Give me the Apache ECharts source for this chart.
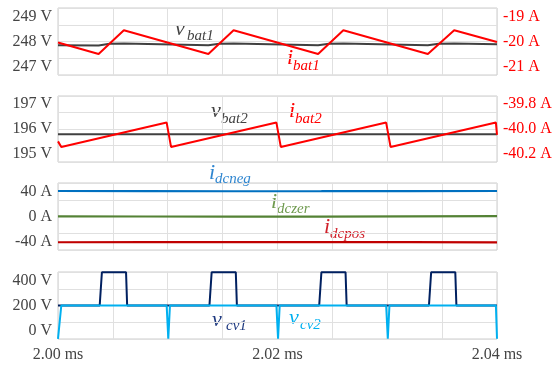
<!DOCTYPE html>
<html>
<head>
<meta charset="utf-8">
<script src="https://cdn.jsdelivr.net/npm/echarts@6/dist/echarts.min.js"></script>
<style>
  html, body { margin: 0; padding: 0; background: #fff; }
  #chart { width: 555px; height: 365px; }
</style>
</head>
<body>
<div id="chart"></div>
<script>
// time axis in ms
const xTicks = [2.00, 2.02, 2.04]

// panel 1: battery 1
const bat1Time = [2.0000, 2.0037, 2.0060, 2.0137, 2.0160, 2.0237, 2.0260, 2.0337, 2.0361, 2.0400]
const iBat1 = [-20.04, -20.50, -19.55, -20.50, -19.55, -20.50, -19.55, -20.50, -19.55, -20.02]
const vBat1Time = [2.0000, 2.0037, 2.0047, 2.0060, 2.0137, 2.0147, 2.0160, 2.0237, 2.0247, 2.0260, 2.0337, 2.0347, 2.0361, 2.0400]
const vBat1 = [247.85, 247.84, 247.91, 247.92, 247.85, 247.91, 247.92, 247.85, 247.91, 247.92, 247.85, 247.91, 247.92, 247.89]

// panel 2: battery 2
const bat2Time = [2.0000, 2.0003, 2.0099, 2.0103, 2.0199, 2.0203, 2.0299, 2.0303, 2.0399, 2.0400]
const iBat2 = [-40.10, -40.145, -39.948, -40.145, -39.948, -40.145, -39.948, -40.145, -39.948, -40.047]
const vBat2Time = [2.0000, 2.0400]
const vBat2 = [195.79, 195.79]

// panel 3: dc link currents
const dcTime = [2.000, 2.008, 2.016, 2.024, 2.032, 2.040]
const iDcNeg = [40.6, 40.4, 40.2, 40.3, 40.5, 40.6]
const iDcZer = [0.2, 0.0, -0.3, -0.2, 0.2, 0.6]
const iDcPos = [-41.0, -40.8, -40.6, -40.7, -40.9, -41.1]

// panel 4: capacitor voltages
const cv1Time = [2.0000, 2.0038, 2.0040, 2.0062, 2.0063, 2.0138, 2.0140, 2.0162, 2.0163, 2.0238, 2.0240, 2.0262, 2.0263, 2.0338, 2.0340, 2.0362, 2.0363, 2.0400]
const vCv1 = [200, 200, 465, 465, 200, 200, 465, 465, 200, 200, 465, 465, 200, 200, 465, 465, 200, 200]
const cv2Time = [2.0000, 2.0001, 2.0003, 2.0099, 2.01005, 2.0102, 2.0199, 2.02005, 2.0202, 2.0299, 2.03005, 2.0302, 2.0399, 2.0400]
const vCv2 = [-65, -65, 200, 200, -65, 200, 200, -65, 200, 200, -65, 200, 200, -65]

// tick labels per panel
const bat1VTicks = [247, 248, 249]
const bat1ATicks = [-21, -20, -19]
const bat2VTicks = [195, 196, 197]
const bat2ATicks = [-40.2, -40.0, -39.8]
const dcTicks = [-40, 0, 40]
const cvTicks = [0, 200, 400]

// math labels (x = left, y = baseline)
const notes = [
  { main: 'v', sub: 'bat1', x: 175, y: 36, sx: 187, sy: 41, color: '#444' },
  { main: 'i', sub: 'bat1', x: 287, y: 65, sx: 293, sy: 71, color: '#ff0000' },
  { main: 'v', sub: 'bat2', x: 211, y: 118, sx: 221, sy: 124, color: '#444' },
  { main: 'i', sub: 'bat2', x: 289, y: 118, sx: 295, sy: 124, color: '#ff0000' },
  { main: 'i', sub: 'dcneg', x: 209, y: 180, sx: 215, sy: 184, color: '#2f86d0' },
  { main: 'i', sub: 'dczer', x: 271, y: 209, sx: 277, sy: 214, color: '#6f9a4f' },
  { main: 'i', sub: 'dcpos', x: 324, y: 234, sx: 330, sy: 239, color: '#d0202a' },
  { main: 'v', sub: 'cv1', x: 212, y: 327, sx: 226, sy: 331, color: '#1f3a80' },
  { main: 'v', sub: 'cv2', x: 289, y: 325, sx: 300, sy: 330, color: '#00b0f0' }
]

const FONT = 'Liberation Serif'
const zip = (t, v) => t.map((x, i) => [x, v[i]])

const grids = [
  { left: 58, width: 439, top: 8, height: 67 },
  { left: 58, width: 439, top: 96, height: 66 },
  { left: 58, width: 439, top: 183, height: 67 },
  { left: 58, width: 439, top: 272, height: 67 }
].map(g => Object.assign(g, { show: true, borderColor: '#cccccc', borderWidth: 1, backgroundColor: 'transparent' }))

const xAxes = grids.map((g, i) => ({
  type: 'value',
  gridIndex: i,
  min: 2.0,
  max: 2.04,
  interval: 0.005,
  axisLine: { show: false },
  axisTick: { show: false },
  splitLine: { lineStyle: { color: '#e0e0e0' } },
  axisLabel: i === 3
    ? { customValues: xTicks, formatter: v => v.toFixed(2) + ' ms', color: '#444', fontFamily: FONT, fontSize: 16, margin: 8 }
    : { show: false }
}))

function gridAxis (grid) {
  return {
    type: 'value', gridIndex: grid, position: 'left', min: 0, max: 4, interval: 1,
    axisLabel: { show: false }, axisLine: { show: false }, axisTick: { show: false },
    splitLine: { lineStyle: { color: '#e0e0e0' } }
  }
}

function labelAxis (grid, pos, min, max, ticks, fmt, color) {
  return {
    type: 'value', gridIndex: grid, position: pos, min: min, max: max,
    axisLine: { show: false }, axisTick: { show: false }, splitLine: { show: false },
    axisLabel: { customValues: ticks, formatter: fmt, color: color, fontFamily: FONT, fontSize: 16, margin: 6 }
  }
}

const yAxes = [
  gridAxis(0),
  labelAxis(0, 'left', 246.6667, 249.3333, bat1VTicks, v => v + ' V', '#444'),
  labelAxis(0, 'right', -21.3333, -18.6667, bat1ATicks, v => v + ' A', '#ff0000'),
  gridAxis(1),
  labelAxis(1, 'left', 194.6667, 197.3333, bat2VTicks, v => v + ' V', '#444'),
  labelAxis(1, 'right', -40.2667, -39.7333, bat2ATicks, v => v.toFixed(1) + ' A', '#ff0000'),
  gridAxis(2),
  labelAxis(2, 'left', -53.3333, 53.3333, dcTicks, v => v + ' A', '#444'),
  gridAxis(3),
  labelAxis(3, 'left', -66.6667, 466.6667, cvTicks, v => v + ' V', '#444')
]

function line (xi, yi, data, color, width) {
  return {
    type: 'line', xAxisIndex: xi, yAxisIndex: yi, data: data,
    showSymbol: false, symbol: 'none', clip: true,
    lineStyle: { color: color, width: width }
  }
}

const series = [
  line(0, 1, zip(vBat1Time, vBat1), '#404040', 2),
  line(0, 2, zip(bat1Time, iBat1), '#ff0000', 2),
  line(1, 4, zip(vBat2Time, vBat2), '#404040', 2),
  line(1, 5, zip(bat2Time, iBat2), '#ff0000', 2),
  line(2, 7, zip(dcTime, iDcNeg), '#0070c0', 2.2),
  line(2, 7, zip(dcTime, iDcZer), '#548235', 2.2),
  line(2, 7, zip(dcTime, iDcPos), '#c00000', 2.2),
  line(3, 9, zip(cv1Time, vCv1), '#002060', 2),
  line(3, 9, zip(cv2Time, vCv2), '#00b0f0', 2)
]

const graphic = []
for (const n of notes) {
  graphic.push({
    type: 'text', x: n.x, y: n.y - 7,
    style: { text: n.main, fill: n.color, fontFamily: FONT, fontStyle: 'italic', fontSize: 22, verticalAlign: 'middle' }
  })
  graphic.push({
    type: 'text', x: n.sx, y: n.sy - 5,
    style: { text: n.sub, fill: n.color, fontFamily: FONT, fontStyle: 'italic', fontSize: 15, verticalAlign: 'middle' }
  })
}

const myChart = echarts.init(document.getElementById('chart'))
myChart.setOption({
  animation: false,
  grid: grids,
  xAxis: xAxes,
  yAxis: yAxes,
  series: series,
  graphic: graphic
})
</script>
</body>
</html>
